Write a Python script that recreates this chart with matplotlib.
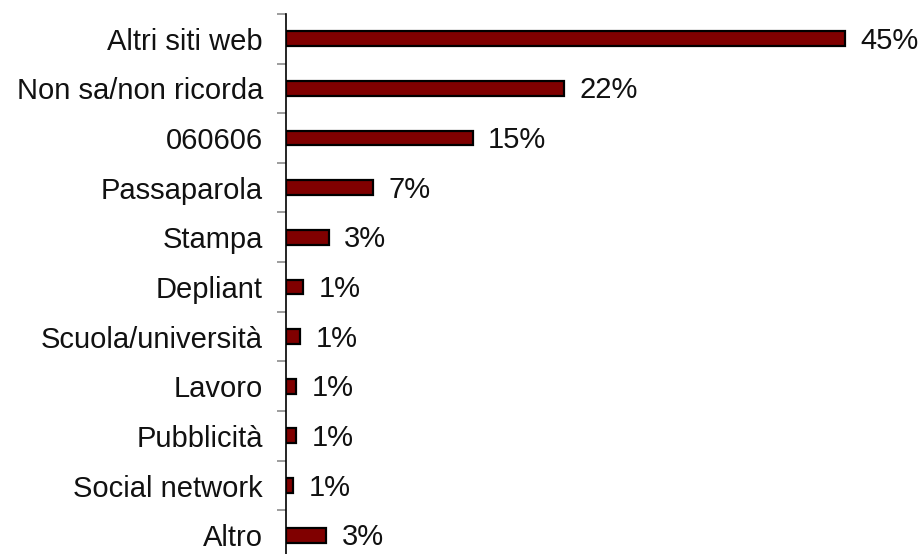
import numpy as np
import matplotlib
matplotlib.use('Agg')
import matplotlib.pyplot as plt
from matplotlib.ticker import FixedLocator

plt.rcParams['font.family'] = ['Liberation Sans', 'DejaVu Sans']

categories = ['Altri siti web', 'Non sa/non ricorda', '060606', 'Passaparola',
              'Stampa', 'Depliant', 'Scuola/università', 'Lavoro',
              'Pubblicità', 'Social network', 'Altro']
# shares in percent
values = [45.0, 22.4, 15.0, 7.0, 3.4, 1.35, 1.1, 0.8, 0.8, 0.55, 3.2]

bar_color = '#800000'

fig = plt.figure(figsize=(9.23, 5.54), dpi=100)
ax = fig.add_axes([0.3104, -0.011, 0.672, 0.986])

y = np.arange(len(categories))
ax.barh(y, values, height=0.3, color=bar_color, edgecolor='black', linewidth=1.6)

for yi, v in zip(y, values):
    ax.annotate(f'{v:.0f}%', xy=(v, yi), xytext=(11, -1.5), textcoords='offset points',
                va='center', ha='left', fontsize=21, color='#111111')

ax.set_ylim(len(categories) - 0.5, -0.5)
ax.set_xlim(0, 50)
ax.set_yticks(y)
ax.set_yticklabels(categories, fontsize=21, color='#111111')
ax.yaxis.set_minor_locator(FixedLocator(np.arange(len(categories) + 1) - 0.5))
ax.tick_params(axis='y', which='major', length=0, pad=17)
ax.tick_params(axis='y', which='minor', length=6.5, width=1.2, color='#8c8c8c')
ax.set_xticks([])

for side in ['top', 'right', 'bottom']:
    ax.spines[side].set_visible(False)
ax.spines['left'].set_linewidth(1.2)
ax.spines['left'].set_color('black')

fig.savefig('out.png', dpi=100)
